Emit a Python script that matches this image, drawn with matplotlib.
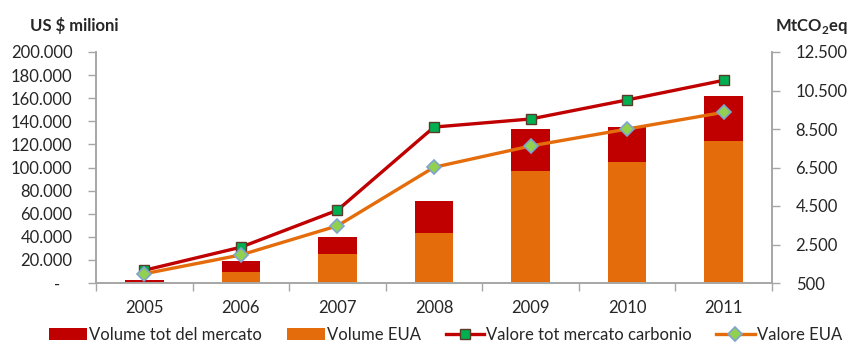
import matplotlib
matplotlib.use("Agg")
import matplotlib.pyplot as plt
from matplotlib.ticker import FixedLocator, FuncFormatter
from matplotlib.lines import Line2D
from matplotlib.patches import Patch
import numpy as np

# Mercato del carbonio 2005-2011
years = ["2005", "2006", "2007", "2008", "2009", "2010", "2011"]

# Volumi (MtCO2eq, asse destro)
volume_tot = [660, 1660, 2910, 4760, 8500, 8620, 10220]
volume_eua = [540, 1070, 2010, 3080, 6320, 6800, 7880]

# Valori (US $ milioni, asse sinistro)
valore_tot = [11000, 31000, 63000, 135000, 142000, 158500, 175500]
valore_eua = [8000, 24300, 49500, 100200, 118600, 133300, 147800]

RED = "#C00000"
ORANGE = "#E46C0A"
SQ_FACE = "#00B050"
SQ_EDGE = "#5B3A29"
DI_FACE = "#92D050"
DI_EDGE = "#7DA3CF"
AXIS = "#A6A6A6"
TEXT = "#262626"
FS = 12

plt.rcParams["font.family"] = ["Lato", "DejaVu Sans"]
plt.rcParams["mathtext.fontset"] = "custom"
plt.rcParams["mathtext.bf"] = "Lato:bold"
plt.rcParams["mathtext.rm"] = "Lato:bold"

fig = plt.figure(figsize=(8.51, 3.43), dpi=100)
ax = fig.add_axes([96 / 851, 1 - 283 / 343, 676 / 851, 231 / 343])
ax2 = ax.twinx()

x = np.arange(len(years))
bw = 0.4

# barre impilate sull'asse destro
eua = np.array(volume_eua)
tot = np.array(volume_tot)
ax2.bar(x, eua, width=bw, color=ORANGE, zorder=2)
ax2.bar(x, tot - eua, bottom=eua, width=bw, color=RED, zorder=2)
ax2.set_ylim(500, 12500)

# linee sull'asse sinistro, sopra le barre
ax.set_zorder(ax2.get_zorder() + 1)
ax.patch.set_visible(False)
ax.plot(x, valore_tot, color=RED, lw=2.4, marker="s", ms=7,
        mfc=SQ_FACE, mec=SQ_EDGE, mew=1.0, zorder=3)
ax.plot(x, valore_eua, color=ORANGE, lw=2.4, marker="D", ms=7,
        mfc=DI_FACE, mec=DI_EDGE, mew=1.2, zorder=3)
ax.set_ylim(0, 200000)
ax.set_xlim(-0.5, len(years) - 0.5)

def thousands(v, pos=None):
    v = int(round(v))
    if v == 0:
        return "-   "
    return f"{v:,}".replace(",", ".")

ax.yaxis.set_major_locator(FixedLocator(np.arange(0, 200001, 20000)))
ax.yaxis.set_major_formatter(FuncFormatter(thousands))
ax2.yaxis.set_major_locator(FixedLocator(np.arange(500, 12501, 2000)))
ax2.yaxis.set_major_formatter(FuncFormatter(thousands))

# tick delle categorie ai bordi, etichette al centro
ax.xaxis.set_major_locator(FixedLocator(np.arange(-0.5, len(years), 1.0)))
ax.xaxis.set_major_formatter(FuncFormatter(lambda v, p: ""))
ax.xaxis.set_minor_locator(FixedLocator(x))
ax.xaxis.set_minor_formatter(FuncFormatter(lambda v, p: years[int(round(v))]))
ax.tick_params(axis="x", which="major", length=6, width=1, color=AXIS)
ax.tick_params(axis="x", which="minor", length=0, pad=12, labelsize=FS, labelcolor=TEXT)

ax.tick_params(axis="y", length=6, width=1, color=AXIS, pad=11,
               labelsize=FS, labelcolor=TEXT)
ax2.tick_params(axis="y", length=6, width=1, color=AXIS, pad=11,
                labelsize=FS, labelcolor=TEXT)

for a in (ax, ax2):
    a.spines["top"].set_visible(False)
    for s in ("left", "right", "bottom"):
        a.spines[s].set_color(AXIS)
        a.spines[s].set_linewidth(1.2)

fig.text(30 / 851, 1 - 26 / 343, "US $ milioni", fontsize=FS, fontweight="bold",
         color=TEXT, ha="left", va="center")
fig.text(848 / 851, 1 - 26 / 343, r"MtCO$_2$eq", fontsize=FS, fontweight="bold",
         color=TEXT, ha="right", va="center")

handles = [
    Patch(facecolor=RED, edgecolor="none", label="Volume tot del mercato"),
    Patch(facecolor=ORANGE, edgecolor="none", label="Volume EUA"),
    Line2D([], [], color=RED, lw=2.4, marker="s", ms=7, mfc=SQ_FACE,
           mec=SQ_EDGE, mew=1.0, label="Valore tot mercato carbonio"),
    Line2D([], [], color=ORANGE, lw=2.4, marker="D", ms=7, mfc=DI_FACE,
           mec=DI_EDGE, mew=1.2, label="Valore EUA"),
]
leg = fig.legend(handles=handles, ncol=4, loc="center",
                 bbox_to_anchor=((48 + 843) / 2 / 851, 1 - 335 / 343),
                 frameon=False, fontsize=FS, handlelength=2.3,
                 handletextpad=0.15, columnspacing=1.45, borderpad=0,
                 borderaxespad=0, numpoints=1)
for t in leg.get_texts():
    t.set_color(TEXT)

fig.savefig("out.png", dpi=100)
